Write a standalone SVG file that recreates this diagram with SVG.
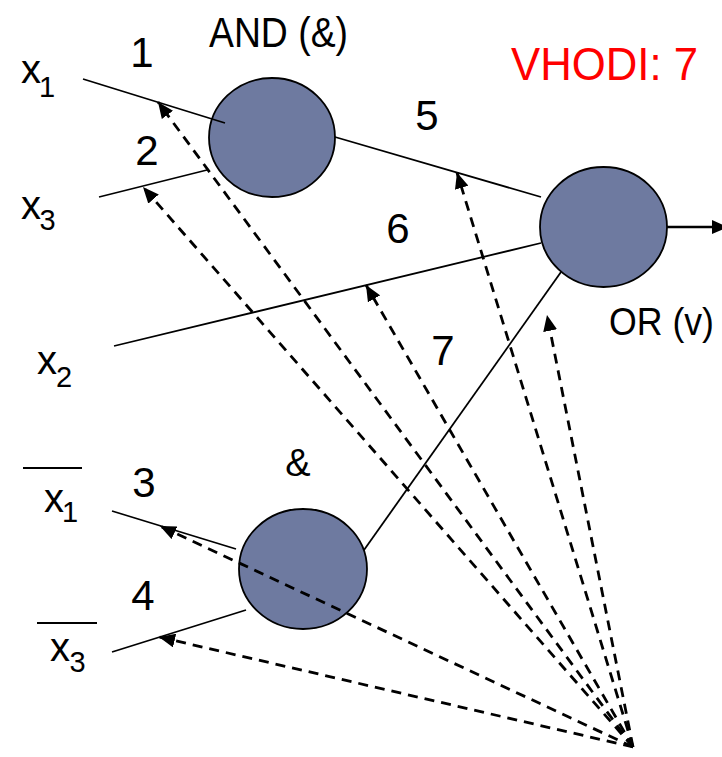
<svg xmlns="http://www.w3.org/2000/svg" width="722" height="757" viewBox="0 0 722 757">
<style>
  text { font-family: "Liberation Sans", Arial, sans-serif; fill: #000; }
  .big { font-size: 42px; }
  .var { font-size: 40px; text-anchor: middle; }
  .sub { font-size: 29px; text-anchor: middle; }
  .num { font-size: 42px; text-anchor: middle; }
  .gate { fill: #6E7AA0; stroke: #000; stroke-width: 1.8; }
  .wire { stroke: #000; stroke-width: 1.8; fill: none; }
  .dash { stroke: #000; stroke-width: 2.8; fill: none; stroke-dasharray: 10 7; marker-end: url(#ah); }
  .bar { stroke: #000; stroke-width: 2; }
</style>
<defs>
  <marker id="ah" markerUnits="userSpaceOnUse" markerWidth="18" markerHeight="14" refX="16" refY="7" orient="auto">
    <path d="M0,0 L16,7 L0,14 Z" fill="#000"/>
  </marker>
</defs>
<rect width="722" height="757" fill="#fff"/>

<g id="node-and">
  <ellipse class="gate" cx="272" cy="137.5" rx="63" ry="59.5"/>
  <text class="big" x="209" y="47" textLength="139" lengthAdjust="spacingAndGlyphs">AND (&amp;)</text>
</g>
<g id="node-or">
  <ellipse class="gate" cx="603.5" cy="227" rx="63.5" ry="60"/>
  <text x="609" y="335" style="font-size:38px" textLength="105" lengthAdjust="spacingAndGlyphs">OR (v)</text>
</g>
<g id="node-and2">
  <ellipse class="gate" cx="303" cy="569" rx="64" ry="60"/>
  <text x="298" y="476" style="font-size:38px;text-anchor:middle">&amp;</text>
</g>

<g id="inputs">
  <g id="in-x1"><text class="var" x="31" y="83">x</text><text class="sub" x="47" y="97">1</text></g>
  <g id="in-x3"><text class="var" x="31" y="219">x</text><text class="sub" x="47.5" y="230">3</text></g>
  <g id="in-x2"><text class="var" x="47" y="374">x</text><text class="sub" x="64" y="387">2</text></g>
  <g id="in-nx1"><line class="bar" x1="23" y1="468" x2="82" y2="468"/><text class="var" x="54" y="512">x</text><text class="sub" x="70" y="522">1</text></g>
  <g id="in-nx3"><line class="bar" x1="37" y1="623" x2="97" y2="623"/><text class="var" x="60" y="661">x</text><text class="sub" x="77.5" y="672">3</text></g>
</g>

<g id="connectors">
  <line class="wire" x1="83" y1="79" x2="225" y2="123"/>
  <line class="wire" x1="99" y1="197" x2="207" y2="170"/>
  <line class="wire" x1="335" y1="137" x2="541" y2="197"/>
  <line class="wire" x1="114" y1="346" x2="541" y2="243"/>
  <line class="wire" x1="364" y1="550" x2="561" y2="272"/>
  <line class="wire" x1="112" y1="511" x2="236" y2="549"/>
  <line class="wire" x1="112" y1="652" x2="246" y2="610"/>
  <line x1="667" y1="227" x2="714" y2="227" stroke="#000" stroke-width="2.6"/>
  <path d="M712,220 L728,227 L712,234 Z" fill="#000"/>

  <line class="dash" x1="633" y1="747" x2="158" y2="102"/>
  <line class="dash" x1="633" y1="747" x2="143" y2="187"/>
  <line class="dash" x1="633" y1="747" x2="457" y2="172.5"/>
  <line class="dash" x1="633" y1="747" x2="366" y2="285"/>
  <line class="dash" x1="633" y1="747" x2="547" y2="315"/>
  <line class="dash" x1="633" y1="747" x2="160" y2="526"/>
  <line class="dash" x1="633" y1="747" x2="159" y2="637"/>
</g>

<g id="labels">
  <text class="num" x="142" y="67">1</text>
  <text class="num" x="147" y="165">2</text>
  <text class="num" x="427" y="130">5</text>
  <text class="num" x="398" y="243">6</text>
  <text class="num" x="443" y="365">7</text>
  <text class="num" x="144" y="497">3</text>
  <text class="num" x="143" y="610">4</text>
  <text x="511" y="80" style="font-size:46px;fill:#FF0000" textLength="187" lengthAdjust="spacingAndGlyphs">VHODI: 7</text>
</g>
</svg>
